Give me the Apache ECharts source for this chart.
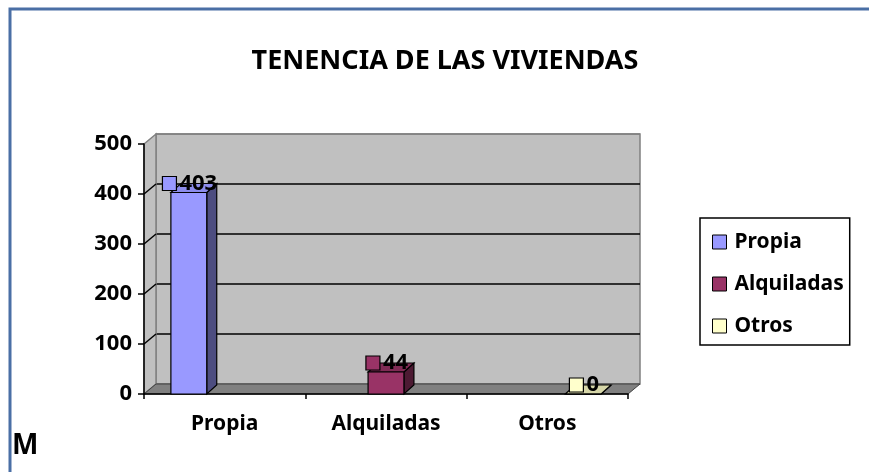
<!DOCTYPE html>
<html>
<head>
<meta charset="utf-8">
<style>
  html, body { margin: 0; padding: 0; background: #fff; }
  #chart { width: 869px; height: 472px; }
</style>
<script src="https://cdn.jsdelivr.net/npm/echarts@6/dist/echarts.min.js"></script>
</head>
<body>
<div id="chart"></div>
<script>
// values
var categories = ['Propia', 'Alquiladas', 'Otros']
var seriesNames = ['Propia', 'Alquiladas', 'Otros']
var propia = [403, null, null]
var alquiladas = [null, 44, null]
var otros = [null, null, 0]
var yTicks = [0, 100, 200, 300, 400, 500]

var FONT = '"Noto Sans", "Open Sans", sans-serif'
// front plane of the plot and the 3D depth offset
var plot = { left: 144, top: 144, width: 484, height: 250 }
var depth = { dx: 12, dy: -10 }
var barDepth = { dx: 10, dy: -9 }

var faces = [
  { front: '#9999FF', side: '#4D4D80', top: '#8C8CEB' },
  { front: '#993366', side: '#4D1A33', top: '#802B55' },
  { front: '#FFFFCC', side: '#808066', top: '#D6D6A8' }
]

var measureCtx = document.createElement('canvas').getContext('2d')
function textWidth(str, size) {
  measureCtx.font = 'bold ' + size + 'px ' + FONT
  return measureCtx.measureText(str).width
}

function toItems(values) {
  var out = []
  values.forEach(function (v, i) {
    if (v !== null) out.push([i, v])
  })
  return out
}

function renderBar(params, api) {
  var s = params.seriesIndex
  var cat = api.value(0)
  var val = api.value(1)
  var catW = api.size([1, 0])[0]
  var base = api.coord([cat, 0])
  var top = api.coord([cat, val])
  var w = catW / 4.5
  var x0 = base[0] - catW / 2 + 0.75 * w + s * w
  var x1 = x0 + w
  var y0 = base[1]
  var y1 = top[1]
  var f = faces[s]
  var dx = barDepth.dx
  var dy = barDepth.dy
  var edge = { stroke: '#000', lineWidth: 1.2 }

  var labelSize = 22
  var txt = String(val)
  var tw = textWidth(txt, labelSize)
  var key = 14
  var total = key + 3 + tw
  var cx = x0 + w / 2 + 1
  var cy = y1 - 9
  var lx = cx - total / 2

  return {
    type: 'group',
    children: [
      { type: 'polygon', shape: { points: [[x1, y1], [x1 + dx, y1 + dy], [x1 + dx, y0 + dy], [x1, y0]] },
        style: Object.assign({ fill: f.side }, edge) },
      { type: 'polygon', shape: { points: [[x0, y1], [x0 + dx, y1 + dy], [x1 + dx, y1 + dy], [x1, y1]] },
        style: Object.assign({ fill: f.top }, edge) },
      { type: 'rect', shape: { x: x0, y: y1, width: w, height: y0 - y1 },
        style: Object.assign({ fill: f.front }, edge) },
      { type: 'rect', shape: { x: lx, y: cy - key / 2, width: key, height: key },
        style: { fill: f.front, stroke: '#000', lineWidth: 1.2 } },
      { type: 'text', x: lx + key + 3, y: cy,
        style: { text: txt, fill: '#000', font: 'bold ' + labelSize + 'px ' + FONT,
          textAlign: 'left', textVerticalAlign: 'middle' } }
    ]
  }
}

// walls built from the plot frame
var bottom = plot.top + plot.height
var right = plot.left + plot.width
function yPix(v) { return bottom - v / 500 * plot.height }

var wallGraphics = [
  { type: 'polygon', z: 1, shape: { points: [
      [plot.left, plot.top], [plot.left + depth.dx, plot.top + depth.dy],
      [plot.left + depth.dx, bottom + depth.dy], [plot.left, bottom]] },
    style: { fill: '#C0C0C0', stroke: '#808080', lineWidth: 1.5 } },
  { type: 'polygon', z: 1, shape: { points: [
      [plot.left, bottom], [plot.left + depth.dx, bottom + depth.dy],
      [right + depth.dx, bottom + depth.dy], [right, bottom]] },
    style: { fill: '#808080', stroke: '#404040', lineWidth: 1 } }
]
yTicks.slice(1, -1).forEach(function (v) {
  wallGraphics.push({ type: 'line', z: 1, shape: {
      x1: plot.left, y1: yPix(v), x2: plot.left + depth.dx, y2: yPix(v) + depth.dy },
    style: { stroke: '#000', lineWidth: 1.5 } })
})

var chart = echarts.init(document.getElementById('chart'))

chart.setOption({
  backgroundColor: '#fff',
  animation: false,
  title: {
    text: 'TENENCIA DE LAS VIVIENDAS',
    left: 440,
    top: 43,
    textAlign: 'center',
    textStyle: { fontFamily: FONT, fontWeight: 'bold', fontSize: 27, color: '#000' }
  },
  legend: {
    orient: 'vertical',
    left: 700,
    top: 218,
    data: seriesNames,
    icon: 'rect',
    itemWidth: 14,
    itemHeight: 14,
    itemGap: 18,
    padding: [12, 6, 7, 12],
    borderColor: '#000',
    borderWidth: 1.5,
    itemStyle: { borderColor: '#000', borderWidth: 1 },
    textStyle: { fontFamily: FONT, fontWeight: 'bold', fontSize: 21, color: '#000',
      lineHeight: 24, padding: [0, 0, 0, 3] }
  },
  grid: [
    { left: plot.left + depth.dx, top: plot.top + depth.dy, width: plot.width, height: plot.height,
      show: true, backgroundColor: '#C0C0C0', borderColor: '#808080', borderWidth: 1.5 },
    { left: plot.left, top: plot.top, width: plot.width, height: plot.height }
  ],
  xAxis: [
    { type: 'category', gridIndex: 0, data: categories, show: false },
    { type: 'category', gridIndex: 1, data: categories, z: 3,
      axisLine: { lineStyle: { color: '#000', width: 1.5 } },
      axisTick: { show: true, length: 5, alignWithLabel: false, lineStyle: { color: '#000', width: 1.5 } },
      axisLabel: { margin: 20, color: '#000', fontFamily: FONT, fontWeight: 'bold', fontSize: 21 } }
  ],
  yAxis: [
    { type: 'value', gridIndex: 0, min: 0, max: 500, interval: 100,
      axisLine: { show: false }, axisTick: { show: false }, axisLabel: { show: false },
      splitLine: { show: true, lineStyle: {
        color: ['#808080', '#000', '#000', '#000', '#000', '#808080'], width: 1.5 } } },
    { type: 'value', gridIndex: 1, min: 0, max: 500, interval: 100, z: 3,
      axisLine: { show: true, lineStyle: { color: '#000', width: 1.5 } },
      axisTick: { show: true, length: 6, lineStyle: { color: '#000', width: 1.5 } },
      splitLine: { show: false },
      axisLabel: { margin: 12, color: '#000', fontFamily: FONT, fontWeight: 'bold', fontSize: 22,
        formatter: function (v) { return yTicks.indexOf(v) >= 0 ? String(v) : '' } } }
  ],
  graphic: wallGraphics.concat([
    { type: 'rect', z: 10, shape: { x: 10, y: 9, width: 900, height: 500 },
      style: { fill: 'none', stroke: '#4A6FA5', lineWidth: 3 } },
    { type: 'text', z: 10, left: 12, top: 432,
      style: { text: 'M', fill: '#000', font: 'bold 28px ' + FONT } }
  ]),
  series: [propia, alquiladas, otros].map(function (values, i) {
    return {
      name: seriesNames[i],
      type: 'custom',
      xAxisIndex: 1,
      yAxisIndex: 1,
      z: 5,
      clip: false,
      itemStyle: { color: faces[i].front },
      encode: { x: 0, y: 1 },
      renderItem: renderBar,
      data: toItems(values)
    }
  })
})
</script>
</body>
</html>
